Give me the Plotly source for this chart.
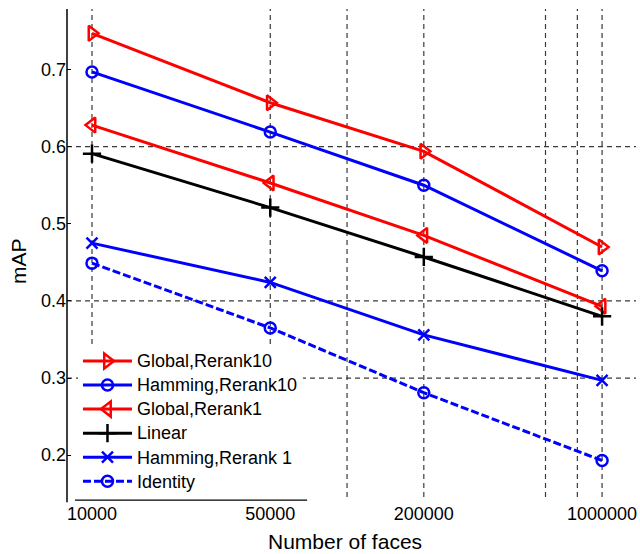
import plotly.graph_objects as go

# Database size (number of faces) and mAP for each retrieval method
faces = [10000, 50000, 200000, 1000000]
tick_labels = ["10000", "50000", "200000", "1000000"]

global_rerank10 = [0.747, 0.657, 0.594, 0.470]
hamming_rerank10 = [0.697, 0.619, 0.550, 0.439]
global_rerank1 = [0.628, 0.553, 0.485, 0.393]
linear = [0.591, 0.521, 0.457, 0.380]
hamming_rerank1 = [0.475, 0.424, 0.356, 0.297]
identity = [0.449, 0.365, 0.281, 0.193]

# Dashed grid positions
grid_x = [10000, 50000, 100000, 200000, 600000, 800000, 1000000]
grid_y = [0.3, 0.4, 0.6]

RED = "#ff0000"
BLUE = "#0000ff"
BLACK = "#000000"
FONT = "Liberation Sans, Arial, sans-serif"

series = [
    ("Global,Rerank10", global_rerank10, RED, "solid", "triangle-right-open", 13),
    ("Hamming,Rerank10", hamming_rerank10, BLUE, "solid", "circle-open", 11),
    ("Global,Rerank1", global_rerank1, RED, "solid", "triangle-left-open", 13),
    ("Linear", linear, BLACK, "solid", "cross-thin", 13),
    ("Hamming,Rerank 1", hamming_rerank1, BLUE, "solid", "x-thin", 11),
    ("Identity", identity, BLUE, "8px,3px", "circle-open", 11),
]

fig = go.Figure()
for name, vals, color, dash, symbol, size in series:
    fig.add_trace(go.Scatter(
        x=faces, y=vals,
        name=f"<span style='font-size:18px'>{name}</span>",
        mode="lines+markers",
        line=dict(color=color, width=3, dash=dash),
        marker=dict(symbol=symbol, size=size, color=color,
                    line=dict(color=color, width=2.5)),
    ))

shapes = []
for gx in grid_x:
    shapes.append(dict(type="line", xref="x", yref="paper", x0=gx, x1=gx,
                       y0=0, y1=1, layer="below",
                       line=dict(color="#3a3a3a", width=1.2, dash="5px,4px")))
for gy in grid_y:
    shapes.append(dict(type="line", xref="paper", yref="y", x0=0, x1=1,
                       y0=gy, y1=gy, layer="below",
                       line=dict(color="#3a3a3a", width=1.2, dash="5px,4px")))
# base line under the legend box
shapes.append(dict(type="line", xref="paper", yref="paper",
                   x0=0.014, x1=0.422, y0=-0.0064, y1=-0.0064,
                   line=dict(color=BLACK, width=1.2)))
# left axis runs slightly past the bottom of the plot area
shapes.append(dict(type="line", xref="paper", yref="paper",
                   x0=0, x1=0, y0=-0.011, y1=1,
                   line=dict(color=BLACK, width=1.5)))

fig.update_layout(
    width=640, height=554,
    margin=dict(l=67, r=4, t=9, b=57),
    paper_bgcolor="white", plot_bgcolor="white",
    font=dict(family=FONT, size=18, color=BLACK),
    showlegend=True,
    legend=dict(
        x=0.0193, y=-0.004, xanchor="left", yanchor="bottom",
        bgcolor="white", borderwidth=0,
        font=dict(family=FONT, size=16.2, color=BLACK),
        itemwidth=49, tracegroupgap=0,
    ),
    xaxis=dict(
        type="log", range=[3.902, 6.133],
        tickvals=faces, ticktext=tick_labels,
        showgrid=False, zeroline=False, showline=False,
        ticks="", ticklabelstandoff=4,
        tickfont=dict(family=FONT, size=18, color=BLACK),
    ),
    yaxis=dict(
        range=[0.1457, 0.7786],
        tickvals=[0.2, 0.3, 0.4, 0.5, 0.6, 0.7],
        ticktext=["0.2", "0.3", "0.4", "0.5", "0.6", "0.7"],
        showgrid=False, zeroline=False, showline=False,
        ticks="inside", ticklen=4, tickcolor=BLACK, tickwidth=1,
        tickfont=dict(family=FONT, size=18, color=BLACK),
    ),
    shapes=shapes,
    annotations=[
        dict(text="Number of faces", xref="paper", yref="paper",
             x=0.4886, y=-0.0902, xanchor="center", yanchor="middle",
             showarrow=False, font=dict(family=FONT, size=21, color=BLACK)),
        dict(text="mAP", xref="paper", yref="paper",
             x=-0.0861, y=0.4836, xanchor="center", yanchor="middle",
             textangle=-90, showarrow=False,
             font=dict(family=FONT, size=21, color=BLACK)),
    ],
)

fig.write_html("out.html")
